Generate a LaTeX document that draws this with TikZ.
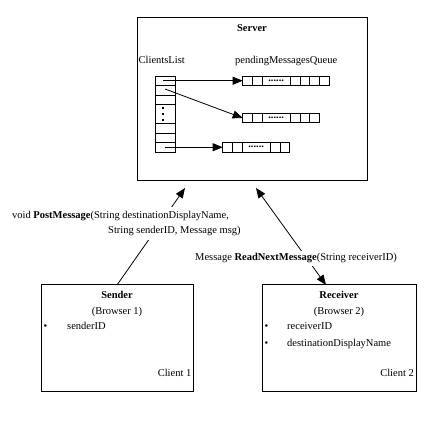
\documentclass[tikz,border=0pt]{standalone}
\usepackage{fontspec}
\setmainfont{Liberation Serif}
\usetikzlibrary{arrows.meta}

% una cola de mensajes: dos celdas, la celda de puntos y #4 celdas mas
\newcommand{\cola}[4]{%
  \node[celda, anchor=west] (#1) at (#2,#3) {};
  \node[celda, anchor=west] (#1b) at (#1.east) {};
  \node[celda, anchor=west, minimum width=28.6pt] (#1d) at (#1b.east) {\textbf{......}};
  \foreach \i [remember=\i as \j (initially d)] in {1,...,#4}
    \node[celda, anchor=west] (#1\i) at (#1\j.east) {};
}

\begin{document}
\begin{tikzpicture}[x=1pt, y=-1pt,
    every node/.style={font=\fontsize{10.5}{15}\selectfont},
    caja/.style={draw, line width=1pt, inner sep=0pt, outer sep=0pt},
    celda/.style={draw, line width=0.8pt, minimum width=9.6pt, minimum height=9.5pt, inner sep=0pt, outer sep=0pt},
    texto/.style={inner sep=0pt, anchor=base west},
    etiqueta/.style={fill=white, inner xsep=2pt, inner ysep=4pt},
    flecha/.style={line width=0.8pt, -{Triangle[length=10pt, width=8pt]}}
  ]
  \useasboundingbox (0,0) rectangle (445,422);

  %El servidor
  \node[caja, minimum width=230pt, minimum height=163pt] (server) at (252,99.5) {};
  \node[texto, anchor=base] (tserver) at (252,32) {\textbf{Server}};
  \node[texto] (tlista) at (138.5,64) {ClientsList};
  \node[texto] (tcolas) at (235,64) {pendingMessagesQueue};

  %La lista de clientes
  \node[draw, line width=0.8pt, minimum width=20pt, minimum height=76pt, inner sep=0pt] (clientes) at (165,114) {};
  \foreach \y in {85.5,95,104.5,123.5,133,142.5}
    \draw[line width=0.8pt] (155,\y) -- (175,\y);
  \foreach \y in {107,113,119}
    \fill (162,\y) rectangle (164.2,\y+2.2);

  %Las colas de mensajes
  \cola{q1}{242.7}{80.75}{4}
  \cola{q2}{242.7}{118}{3}
  \cola{q3}{222.7}{147.25}{2}

  \coordinate (c1) at (163,80.75);
  \coordinate (c2) at (165,89);
  \coordinate (c3) at (165,147.25);
  \draw[flecha] (c1) -- (q1.west);
  \draw[flecha] (c2) -- (q2.west);
  \draw[flecha] (c3) -- (q3.west);

  %Los clientes
  \node[caja, minimum width=152pt, minimum height=107pt] (sender) at (117,338.5) {};
  \node[texto, anchor=base] (tsender) at (117,299) {\textbf{Sender}};
  \node[texto, anchor=base] (tbrowser1) at (117,315) {(Browser 1)};
  \node[texto] (b1) at (43.5,330) {\textbullet};
  \node[texto] (tsenderid) at (67,330) {senderID};
  \node[texto, anchor=base east] (tclient1) at (191.5,377) {Client 1};

  \node[caja, minimum width=154pt, minimum height=107pt] (receiver) at (339,338.5) {};
  \node[texto, anchor=base] (treceiver) at (339,299) {\textbf{Receiver}};
  \node[texto, anchor=base] (tbrowser2) at (339,315) {(Browser 2)};
  \node[texto] (b2) at (264.5,330) {\textbullet};
  \node[texto] (treceiverid) at (287,330) {receiverID};
  \node[texto] (b3) at (264.5,347) {\textbullet};
  \node[texto] (tdestino) at (287,347) {destinationDisplayName};
  \node[texto, anchor=base east] (tclient2) at (414,377) {Client 2};

  %Las llamadas
  \coordinate (s1) at (185,188);
  \coordinate (s2) at (256,188);
  \draw[flecha] (sender.north) -- (s1);
  \draw[flecha, {Triangle[length=10pt, width=8pt]}-{Triangle[length=10pt, width=8pt]}] (s2) -- ([xshift=-13pt]receiver.north);

  \node[etiqueta, anchor=north west, align=left] (post) at (10,207)
    {void \textbf{PostMessage}(String destinationDisplayName,\\
     \hspace*{96pt}String senderID, Message msg)};
  \node[etiqueta, anchor=base west, inner ysep=3pt] (read) at (193,261)
    {Message \textbf{ReadNextMessage}(String receiverID)};
\end{tikzpicture}
\end{document}
